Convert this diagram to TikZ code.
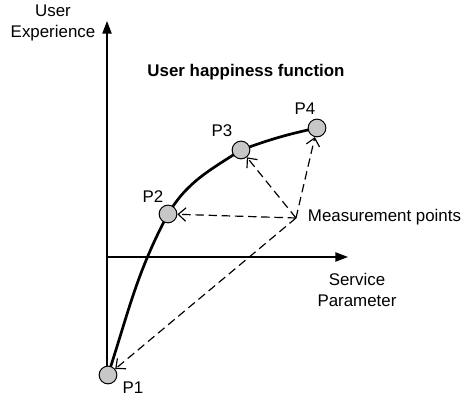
\documentclass[tikz,border=0pt]{standalone}
\usepackage{fontspec}
\setmainfont{Liberation Sans}
\usetikzlibrary{arrows.meta,backgrounds}
\begin{document}
\begin{tikzpicture}[x=0.592pt,y=-0.592pt,font=\fontsize{10}{12}\selectfont,
    axis/.style={line width=0.8pt,-{Triangle[length=7.5pt,width=5.5pt]}},
    meas/.style={line width=0.7pt,dash pattern=on 5pt off 2.8pt,-{Straight Barb[length=4.5pt,width=8pt]}},
    point/.style={circle,draw,line width=0.6pt,fill=black!22,minimum size=10.5pt,inner sep=0pt}]
    \useasboundingbox (0,0) rectangle (464,397);

    % Coordinates
    \coordinate (O) at (107,375);
    \coordinate (xa) at (348,257);
    \coordinate (ya) at (107,21);
    \coordinate (xo) at (107,257);
    \coordinate (hub) at (296,218);

    % Draw the coordinate system
    \draw[axis] (O) -- (ya);
    \draw[axis] (xo) -- (xa);
    \node[align=center] (ylab) at (53,23) {User\\Experience};
    \node[align=center] (xlab) at (357,290) {Service\\Parameter};
    \node[font=\fontsize{10}{12}\selectfont\bfseries] (title) at (246,72) {User happiness function};

    % Draw the points
    \node[point] (p1) at (108,375) {};
    \node[point] (p2) at (168,214) {};
    \node[point] (p3) at (241,150) {};
    \node[point] (p4) at (317,128) {};
    \node (l1) at (133,388) {P1};
    \node (l2) at (153,197) {P2};
    \node (l3) at (222,131) {P3};
    \node (l4) at (305,109) {P4};

    % Draw the curve
    \begin{pgfonlayer}{background}
    \draw[line width=1.6pt] (p1.center) to[out=72,in=242] (p2.center)
        to[out=59,in=213] (p3.center) to[out=20,in=192] (p4.center);
    \end{pgfonlayer}

    % Draw measurement arrows
    \node[anchor=west] (mlab) at (302,217) {Measurement points};
    \draw[meas] (hub) -- (p2);
    \draw[meas] (hub) -- (p3);
    \draw[meas] (hub) -- (p4);
    \draw[meas] (hub) -- (p1);
\end{tikzpicture}
\end{document}
